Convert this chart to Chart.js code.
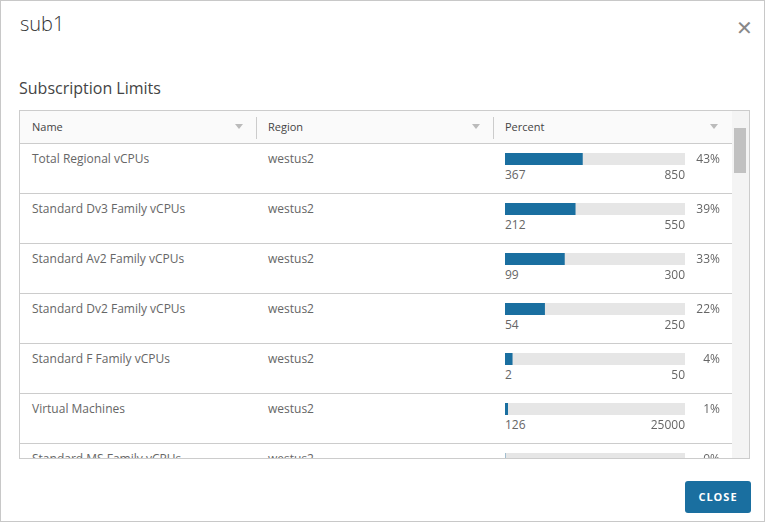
<!DOCTYPE html>
<html>
<head>
<meta charset="utf-8">
<script src="https://cdn.jsdelivr.net/npm/chart.js@4"></script>
<style>
  html, body { margin: 0; padding: 0; background: #fff; font-family: "Open Sans", "Noto Sans", sans-serif; color: #666; }
  .dlg { position: absolute; left: 0; top: 0; width: 763px; height: 520px; border: 1px solid #c8c8c8; }
  .title { position: absolute; left: 19px; top: 9px; font-size: 20px; color: #333; font-weight: 300; }
  .x { position: absolute; left: 735px; top: 13px; font-size: 20px; color: #888; font-weight: 200; }
  .sub { position: absolute; left: 18px; top: 76px; font-size: 16px; color: #444; }
  .grid { position: absolute; left: 18px; top: 109px; width: 729px; height: 347px; border: 1px solid #ccc; overflow: hidden; }
  .hdr { position: absolute; left: 0; top: 0; width: 712px; height: 32px; background: #fafafa; border-bottom: 1px solid #ccc; font-size: 11px; color: #444; }
  .hdr span { position: absolute; top: 8px; }
  .sep { position: absolute; top: 6px; width: 1px; height: 22px; background: #ccc; }
  .flt { position: absolute; top: 13px; width: 0; height: 0; border-left: 4px solid transparent; border-right: 4px solid transparent; border-top: 5px solid #bbb; }
  .row { position: absolute; left: 0; width: 712px; height: 49px; border-bottom: 1px solid #ccc; font-size: 12px; }
  .row .c { position: absolute; top: 6px; }
  .row canvas { position: absolute; left: 485px; top: 9px; }
  .row .lo { position: absolute; left: 485px; top: 22px; }
  .row .hi { position: absolute; left: 485px; width: 180px; text-align: right; top: 22px; }
  .row .pc { position: absolute; left: 660px; width: 40px; text-align: right; top: 6px; }
  .sb { position: absolute; left: 712px; top: 0; width: 17px; height: 347px; background: #f4f4f4; }
  .thumb { position: absolute; left: 2px; top: 17px; width: 12px; height: 45px; background: #c1c1c1; }
  .btn { position: absolute; left: 684px; top: 480px; width: 66px; height: 32px; background: #1a6fa0; color: #fff; border-radius: 3px; font-size: 11px; font-weight: bold; letter-spacing: 1px; text-align: center; line-height: 32px; }
</style>
</head>
<body>
<div class="dlg">
  <div class="title">sub1</div>
  <div class="x">✕</div>
  <div class="sub">Subscription Limits</div>
  <div class="grid" id="grid">
    <div class="hdr">
      <span style="left:12px">Name</span><div class="flt" style="left:215px"></div><div class="sep" style="left:236px"></div>
      <span style="left:248px">Region</span><div class="flt" style="left:452px"></div><div class="sep" style="left:473px"></div>
      <span style="left:485px">Percent</span><div class="flt" style="left:690px"></div>
    </div>
    <div class="sb"><div class="thumb"></div></div>
  </div>
  <div class="btn">CLOSE</div>
</div>
<script>
const names = ['Total Regional vCPUs', 'Standard Dv3 Family vCPUs', 'Standard Av2 Family vCPUs',
  'Standard Dv2 Family vCPUs', 'Standard F Family vCPUs', 'Virtual Machines', 'Standard MS Family vCPUs'];
const regions = ['westus2', 'westus2', 'westus2', 'westus2', 'westus2', 'westus2', 'westus2'];
const used = [367, 212, 99, 54, 2, 126, 0];
const limits = [850, 550, 300, 250, 50, 25000, 100];
const percents = [43, 39, 33, 22, 4, 1, 0];

const grid = document.getElementById('grid');
names.forEach((name, i) => {
  const row = document.createElement('div');
  row.className = 'row';
  row.style.top = (33 + i * 50) + 'px';
  row.innerHTML = `<div class="c" style="left:12px">${name}</div><div class="c" style="left:248px">${regions[i]}</div>
    <canvas width="180" height="12"></canvas>
    <div class="lo">${used[i]}</div><div class="hi">${limits[i]}</div><div class="pc">${percents[i]}%</div>`;
  grid.insertBefore(row, grid.querySelector('.sb'));
  const shown = percents[i] ? Math.max(percents[i], 1.5) : 0;
  new Chart(row.querySelector('canvas'), {
    type: 'bar',
    data: {
      labels: [name],
      datasets: [
        { data: [shown], backgroundColor: '#1a6fa0', borderWidth: 0, order: 0, grouped: false },
        { data: [100], backgroundColor: '#e6e6e6', borderWidth: 0, order: 1, grouped: false }
      ]
    },
    options: {
      indexAxis: 'y',
      responsive: false,
      animation: false,
      devicePixelRatio: 1,
      layout: { padding: 0 },
      datasets: { bar: { barPercentage: 1, categoryPercentage: 1 } },
      scales: {
        x: { display: false, min: 0, max: 100 },
        y: { display: false }
      },
      plugins: { legend: { display: false }, tooltip: { enabled: false } }
    }
  });
});
</script>
</body>
</html>
